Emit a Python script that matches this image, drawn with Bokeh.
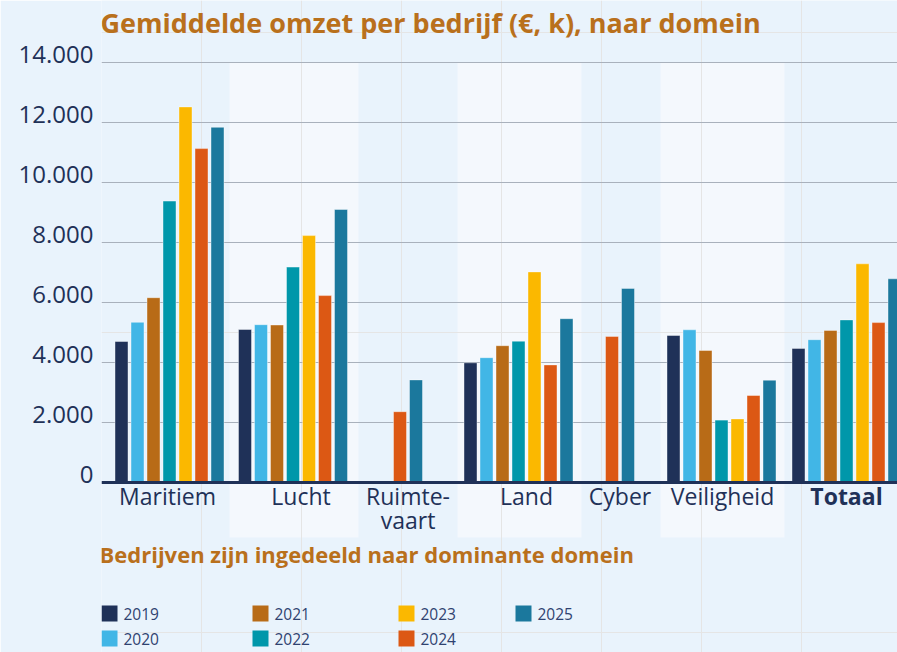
import numpy as np
from bokeh.plotting import figure
from bokeh.models import Range1d, FixedTicker, Span, ColumnDataSource, LinearAxis, Grid
from bokeh.core.properties import value
from bokeh.embed import file_html
from bokeh.resources import INLINE

# ---------------- data ----------------
DOMAINS = ["Maritiem", "Lucht", "Ruimte-\nvaart", "Land", "Cyber", "Veiligheid", "Totaal"]
DOMAIN_BOLD = [False, False, False, False, False, False, True]
YEARS = ["2019", "2020", "2021", "2022", "2023", "2024", "2025"]
V2019 = [4700, 5100, None, 3990, None, 4900, 4470]
V2020 = [5340, 5260, None, 4160, None, 5090, 4760]
V2021 = [6160, 5250, None, 4560, None, 4400, 5070]
V2022 = [9380, 7180, None, 4710, None, 2080, 5420]
V2023 = [12520, 8230, None, 7020, None, 2120, 7290]
V2024 = [11130, 6230, 2360, 3920, 4870, 2900, 5330]
V2025 = [11840, 9100, 3420, 5460, 6470, 3410, 6790]
SERIES = [V2019, V2020, V2021, V2022, V2023, V2024, V2025]
TICKS = [0, 2000, 4000, 6000, 8000, 10000, 12000, 14000]
TICK_LABELS = ["0", "2.000", "4.000", "6.000", "8.000", "10.000", "12.000", "14.000"]
TITLE = "Gemiddelde omzet per bedrijf (€, k), naar domein"
SUBTITLE = "Bedrijven zijn ingedeeld naar dominante domein"

# ---------------- style / layout ----------------
COLORS = ["#1f3158", "#41b6e6", "#b86b17", "#0097aa", "#fbb800", "#dc5814", "#1b789d"]
BG = "#e9f3fc"
BAND = "#f4f8fd"
NAVY = "#1f3158"
LEG_TEXT = "#2f4270"
ORANGE = "#b9701c"
GRID = "#a9b1bc"
FONT = "Open Sans"

W, H = 897, 652
LEFT = 101
PX_PER_UNIT = 0.03
ZERO_Y = 482            # pixel row of value 0
LABEL_RAISE = 8         # tick labels sit just above their grid line


def vy(py):
    return (ZERO_Y - py) / PX_PER_UNIT


BAND_W = [128, 129, 99, 124, 79, 124, 124]
GROUP_NUDGE = [4, -1, 0, -1, -1, -1, 0]
LABEL_NUDGE = [2, 7, 0, 7, -1, 0, 0]
PITCH, BAR_W = 16, 13
LEG_COL_X = [0, 151, 297, 414]
LEG_ROW_Y = [613, 638]

p = figure(width=W, height=H, output_backend="svg", toolbar_location=None,
           x_range=Range1d(0, W - LEFT), y_range=Range1d(vy(H), vy(0)),
           x_axis_location=None, y_axis_location=None,
           min_border_left=LEFT, min_border_right=0, min_border_top=0, min_border_bottom=0)
p.background_fill_color = BG
p.border_fill_color = BG
p.outline_line_color = None

# bands
lefts = np.concatenate([[0], np.cumsum(BAND_W)[:-1]])
centers = lefts + np.array(BAND_W) / 2
odd = [i for i in range(len(DOMAINS)) if i % 2 == 1]
p.quad(left=[lefts[i] for i in odd], right=[lefts[i] + BAND_W[i] for i in odd],
       bottom=vy(537), top=TICKS[-1], fill_color=BAND, line_color=None, level="image")

# grid & axis
p.add_layout(Grid(dimension=1, ticker=FixedTicker(ticks=TICKS[1:]),
                  grid_line_color=GRID, grid_line_width=1.2))
shift = LABEL_RAISE / PX_PER_UNIT
p.extra_y_ranges = {"labels": Range1d(vy(H) - shift, vy(0) - shift)}
ax = LinearAxis(y_range_name="labels", ticker=FixedTicker(ticks=TICKS))
ax.major_label_overrides = dict(zip(TICKS, TICK_LABELS))
ax.axis_line_color = None
ax.major_tick_line_color = None
ax.minor_tick_line_color = None
ax.major_tick_out = 0
ax.major_tick_in = 0
ax.minor_tick_out = 0
ax.major_label_standoff = 8
ax.major_label_text_font = FONT
ax.major_label_text_font_size = "24px"
ax.major_label_text_color = NAVY
p.add_layout(ax, "left")

# bars
for yi, (yr, vals, col) in enumerate(zip(YEARS, SERIES, COLORS)):
    xs, tops = [], []
    for di, v in enumerate(vals):
        if v is None:
            continue
        present = [k for k in range(len(SERIES)) if SERIES[k][di] is not None]
        j = present.index(yi)
        xs.append(centers[di] + GROUP_NUDGE[di] + (j - (len(present) - 1) / 2) * PITCH)
        tops.append(v)
    src = ColumnDataSource(dict(x=xs, top=tops))
    p.vbar(x="x", top="top", bottom=0, width=BAR_W, source=src, fill_color=col,
           line_color="white", line_alpha=0.4, line_width=1)

p.add_layout(Span(location=0, dimension="width", line_color=NAVY, line_width=3))

# category labels
for di, name in enumerate(DOMAINS):
    for li, line in enumerate(name.split("\n")):
        p.text(x=[centers[di] + LABEL_NUDGE[di]], y=[vy(495 + li * 24)], text=[line],
               text_font=value(FONT), text_font_size="23px", text_color=NAVY,
               text_font_style="bold" if DOMAIN_BOLD[di] else "normal",
               text_align="center", text_baseline="middle")

# title & subtitle
p.text(x=[-1], y=[vy(22)], text=[TITLE], text_font=value(FONT), text_font_size="27px",
       text_font_style="bold", text_color=ORANGE, text_align="left", text_baseline="middle")
p.text(x=[-2], y=[vy(553)], text=[SUBTITLE], text_font=value(FONT), text_font_size="22px",
       text_font_style="bold", text_color=ORANGE, text_align="left", text_baseline="middle")

# legend
for i, (yr, col) in enumerate(zip(YEARS, COLORS)):
    cx = LEG_COL_X[i // 2]
    ry = vy(LEG_ROW_Y[i % 2])
    p.scatter(x=[cx + 8], y=[ry], marker="square", size=16, fill_color=col, line_color=None)
    p.text(x=[cx + 22], y=[ry], text=[yr], text_font=value(FONT), text_font_size="15.5px",
           text_color=LEG_TEXT, text_align="left", text_baseline="middle")

open("out.html", "w").write(file_html(p, INLINE))
